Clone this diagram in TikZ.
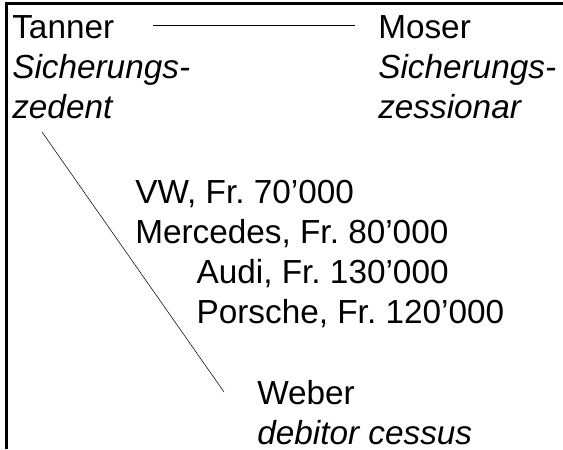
\documentclass[tikz,border=0pt]{standalone}
\usepackage{fontspec}
\setmainfont{Liberation Sans}
\frenchspacing

\begin{document}
\begin{tikzpicture}[x=0.75pt,y=-0.75pt,
  party/.style={anchor=base west, inner sep=0pt, align=left, font=\fontsize{25}{30}\selectfont}]
\useasboundingbox (0,0) rectangle (563,449);

\draw[line width=2pt] (6.5,449) -- (6.5,3.5) -- (563,3.5);

\node[party] (tanner) at (12,119) {Tanner\\\textit{Sicherungs-}\\\textit{zedent}};
\node[party] (moser) at (378,119) {Moser\\\textit{Sicherungs-}\\\textit{zessionar}};
\node[party] (autos) at (135,323) {VW, Fr. 70’000\\Mercedes, Fr. 80’000\\\hspace*{46pt}Audi, Fr. 130’000\\\hspace*{46pt}Porsche, Fr. 120’000};
\node[party] (weber) at (257,444) {Weber\\\textit{debitor cessus}};

\draw[line width=0.6pt] ([shift={(141,-94)}]tanner.base west) -- ([shift={(-23,-94)}]moser.base west);
\draw[line width=0.4pt] ([shift={(30,13)}]tanner.base west) -- ([shift={(-33,-52)}]weber.base west);
\end{tikzpicture}
\end{document}
